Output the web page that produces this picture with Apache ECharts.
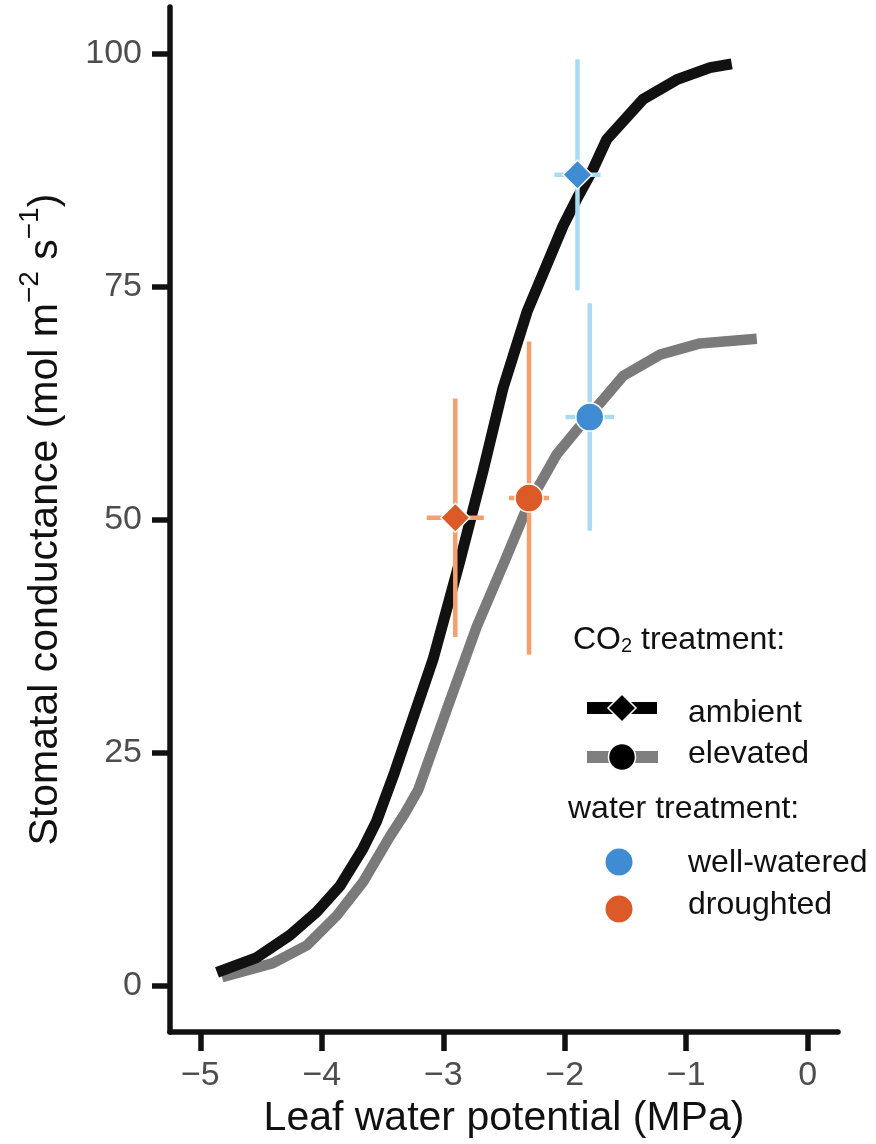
<!DOCTYPE html>
<html>
<head>
<meta charset="utf-8">
<script src="https://cdn.jsdelivr.net/npm/echarts@6/dist/echarts.min.js"></script>
<style>
  html, body { margin: 0; padding: 0; background: #fff; }
  #chart { width: 876px; height: 1144px; }
</style>
</head>
<body>
<div id="chart"></div>
<script>
// Fitted response curves: stomatal conductance vs leaf water potential
const ambientX = [-4.863, -4.536, -4.262, -4.042, -3.850, -3.661, -3.550, -3.400, -3.084, -2.862, -2.673, -2.508, -2.310, -2.014, -1.901, -1.767, -1.654, -1.355, -1.078, -0.804, -0.625];
const ambientY = [1.4, 3.0, 5.4, 7.9, 10.7, 14.7, 17.6, 22.9, 35.0, 45.6, 55.2, 64.1, 72.3, 81.5, 84.4, 87.6, 90.8, 95.1, 97.2, 98.5, 98.9];
const elevatedX = [-4.822, -4.402, -4.124, -3.877, -3.661, -3.439, -3.320, -3.206, -2.972, -2.725, -2.492, -2.300, -2.066, -1.819, -1.767, -1.520, -1.215, -0.886, -0.419];
const elevatedY = [0.9, 2.4, 4.3, 7.5, 11.1, 16.0, 18.4, 21.0, 29.6, 38.5, 45.6, 51.6, 57.0, 60.9, 61.6, 65.4, 67.7, 68.9, 69.4];

// Treatment means with error bars
const pointCO2 = ['ambient', 'elevated', 'ambient', 'elevated'];
const pointWater = ['well-watered', 'well-watered', 'droughted', 'droughted'];
const pointX = [-1.895, -1.794, -2.901, -2.294];
const pointY = [87.0, 61.0, 50.2, 52.3];
const errX = [0.19, 0.20, 0.235, 0.165];
const errY = [12.4, 12.2, 12.8, 16.8];

// Axis ticks
const xTicks = [-5, -4, -3, -2, -1, 0];
const yTicks = [0, 25, 50, 75, 100];

const FONT = 'Liberation Sans';
const waterFill = { 'well-watered': '#3F8CD3', 'droughted': '#DB5A27' };
const waterBar = { 'well-watered': '#A9DCF0', 'droughted': '#F4A06E' };
const co2Symbol = { 'ambient': 'diamond', 'elevated': 'circle' };

const zip = (xs, ys) => xs.map((x, i) => [x, ys[i]]);
const fmtNum = v => (v < 0 ? '\u2212' + Math.abs(v) : String(v));

const errData = pointX.map((x, i) => [x, pointY[i], errX[i], errY[i], i]);
const pointData = pointX.map((x, i) => ({
  value: [x, pointY[i]],
  symbol: co2Symbol[pointCO2[i]],
  symbolSize: co2Symbol[pointCO2[i]] === 'diamond' ? 29 : 28,
  itemStyle: { color: waterFill[pointWater[i]] }
}));

const axisLineStyle = { color: '#111', width: 5.5 };

const chart = echarts.init(document.getElementById('chart'), null, { renderer: 'canvas' });

chart.setOption({
  animation: false,
  backgroundColor: '#fff',
  grid: { left: 170, right: 38, top: 7, bottom: 107, containLabel: false },
  xAxis: {
    type: 'value', min: -5.25, max: 0.25,
    name: 'Leaf water potential (MPa)',
    nameLocation: 'middle', nameGap: 60,
    nameTextStyle: { fontFamily: FONT, fontSize: 41, color: '#111' },
    axisLine: { show: true, onZero: false, lineStyle: axisLineStyle },
    axisTick: { show: true, length: 19, lineStyle: axisLineStyle, customValues: xTicks },
    axisLabel: { fontFamily: FONT, fontSize: 34, color: '#4D4D4D', margin: 27, customValues: xTicks, formatter: fmtNum },
    splitLine: { show: false }
  },
  yAxis: {
    type: 'value', min: -5, max: 105,
    name: '{a|Stomatal conductance (mol m}{s|\u22122}{a| s}{s|\u22121}{a|)}',
    nameLocation: 'middle', nameRotate: 90, nameGap: 104,
    nameTextStyle: {
      fontFamily: FONT, fontSize: 41, color: '#111',
      rich: {
        a: { fontFamily: FONT, fontSize: 41, color: '#111', lineHeight: 50, verticalAlign: 'bottom' },
        s: { fontFamily: FONT, fontSize: 28, color: '#111', lineHeight: 30, verticalAlign: 'top' }
      }
    },
    axisLine: { show: true, onZero: false, lineStyle: axisLineStyle },
    axisTick: { show: true, length: 18, lineStyle: axisLineStyle, customValues: yTicks },
    axisLabel: { fontFamily: FONT, fontSize: 34, color: '#4D4D4D', margin: 28, customValues: yTicks, formatter: fmtNum },
    splitLine: { show: false }
  },
  series: [
    {
      name: 'elevated', type: 'line', data: zip(elevatedX, elevatedY),
      showSymbol: false, symbol: 'none', smooth: false,
      lineStyle: { color: '#7A7A7A', width: 10.5, cap: 'butt', join: 'round' }, z: 2
    },
    {
      name: 'ambient', type: 'line', data: zip(ambientX, ambientY),
      showSymbol: false, symbol: 'none', smooth: false,
      lineStyle: { color: '#111111', width: 11, cap: 'butt', join: 'round' }, z: 3
    },
    {
      name: 'error bars', type: 'custom', z: 4,
      data: errData,
      renderItem: function (params, api) {
        const x = api.value(0), y = api.value(1), ex = api.value(2), ey = api.value(3);
        const idx = api.value(4);
        const col = waterBar[pointWater[idx]];
        const top = api.coord([x, y + ey]), bot = api.coord([x, y - ey]);
        const lft = api.coord([x - ex, y]), rgt = api.coord([x + ex, y]);
        const style = { stroke: col, lineWidth: 4.5, fill: null };
        return {
          type: 'group',
          children: [
            { type: 'line', shape: { x1: top[0], y1: top[1], x2: bot[0], y2: bot[1] }, style: style },
            { type: 'line', shape: { x1: lft[0], y1: lft[1], x2: rgt[0], y2: rgt[1] }, style: style }
          ]
        };
      }
    },
    {
      name: 'means', type: 'scatter', z: 5,
      data: pointData,
      itemStyle: { borderColor: '#fff', borderWidth: 1.5, opacity: 1 }
    }
  ],
  graphic: [
    {
      type: 'text', left: 573, top: 624,
      style: {
        text: '{a|CO}{b|2}{a| treatment:}',
        rich: {
          a: { fontFamily: FONT, fontSize: 32, fill: '#111', lineHeight: 38, verticalAlign: 'bottom' },
          b: { fontFamily: FONT, fontSize: 20, fill: '#111', lineHeight: 14, verticalAlign: 'bottom' }
        }
      }
    },
    { type: 'rect', shape: { x: 587, y: 702, width: 70, height: 12 }, style: { fill: '#000' } },
    { type: 'polygon', shape: { points: [[622, 694], [636, 708], [622, 722], [608, 708]] }, style: { fill: '#000', stroke: '#fff', lineWidth: 1.5 } },
    { type: 'rect', shape: { x: 587, y: 751, width: 71, height: 12 }, style: { fill: '#7F7F7F' } },
    { type: 'circle', shape: { cx: 622, cy: 757, r: 13.5 }, style: { fill: '#000', stroke: '#fff', lineWidth: 1.5 } },
    { type: 'text', left: 688, top: 697, style: { text: 'ambient', fontFamily: FONT, fontSize: 32, fill: '#111' } },
    { type: 'text', left: 688, top: 738, style: { text: 'elevated', fontFamily: FONT, fontSize: 32, fill: '#111' } },
    { type: 'text', left: 568, top: 793, style: { text: 'water treatment:', fontFamily: FONT, fontSize: 32, fill: '#111' } },
    { type: 'circle', shape: { cx: 619, cy: 862, r: 13.5 }, style: { fill: waterFill['well-watered'] } },
    { type: 'circle', shape: { cx: 619, cy: 909, r: 13.5 }, style: { fill: waterFill['droughted'] } },
    { type: 'text', left: 688, top: 847, style: { text: 'well-watered', fontFamily: FONT, fontSize: 32, fill: '#111' } },
    { type: 'text', left: 688, top: 889, style: { text: 'droughted', fontFamily: FONT, fontSize: 32, fill: '#111' } }
  ]
});
</script>
</body>
</html>
